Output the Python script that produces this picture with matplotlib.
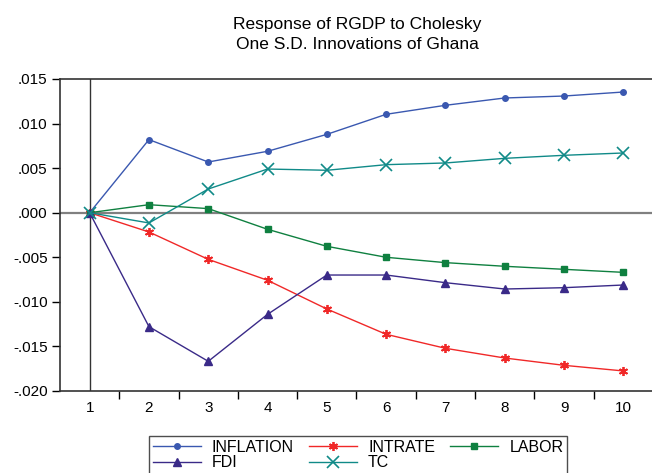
import numpy as np
import matplotlib
matplotlib.use("Agg")
import matplotlib.pyplot as plt
from matplotlib.ticker import FuncFormatter

plt.rcParams['font.family'] = ['Liberation Sans', 'DejaVu Sans']

periods = list(range(1, 11))
inflation = [0.0, 0.00820, 0.00569, 0.00689, 0.00879, 0.01104, 0.01205, 0.01287, 0.01309, 0.01354]
intrate = [0.0, -0.00216, -0.00523, -0.00758, -0.01080, -0.01364, -0.01521, -0.01630, -0.01712, -0.01775]
labor = [0.0, 0.00090, 0.00046, -0.00186, -0.00377, -0.00500, -0.00560, -0.00601, -0.00635, -0.00669]
fdi = [0.0, -0.01278, -0.01667, -0.01140, -0.00699, -0.00699, -0.00785, -0.00856, -0.00841, -0.00811]
tc = [0.0, -0.00115, 0.00266, 0.00490, 0.00476, 0.00539, 0.00558, 0.00610, 0.00644, 0.00670]

yticks = [0.015, 0.010, 0.005, 0.0, -0.005, -0.010, -0.015, -0.020]

fig = plt.figure(figsize=(6.52, 4.73), dpi=100)
ax = fig.add_axes([60 / 652, 1 - 391 / 473, 593 / 652, 312 / 473])

h_inf, = ax.plot(periods, inflation, color='#3a58b0', lw=1, marker='o', ms=4, label='INFLATION')
h_int, = ax.plot(periods, intrate, color='#f02828', lw=1, marker=(6, 2, 0), ms=6.5, mew=1.3, label='INTRATE')
h_lab, = ax.plot(periods, labor, color='#0f8040', lw=1, marker='s', ms=5, label='LABOR')
h_fdi, = ax.plot(periods, fdi, color='#3a2a88', lw=1, marker='^', ms=5.5, label='FDI')
h_tc, = ax.plot(periods, tc, color='#108a88', lw=1, marker='x', ms=9, mew=1.2, label='TC')

ax.axhline(0, color='#808080', lw=1.6, zorder=0)
ax.axvline(1, color='#333333', lw=1, zorder=0)

ax.set_xlim(0.5, 10.5)
ax.set_ylim(-0.020, 0.015)
ax.set_yticks(yticks)
ax.yaxis.set_major_formatter(FuncFormatter(lambda v, p: ('-' if v < -1e-9 else '') + ('%.3f' % abs(v))[1:]))
ax.set_xticks(periods)
ax.set_xticks(np.arange(1.5, 10.5, 1), minor=True)
ax.tick_params(axis='x', which='major', length=0, labelsize=11, pad=7)
ax.tick_params(axis='x', which='minor', length=6, width=1, direction='out')
ax.tick_params(axis='y', length=6, width=1, direction='out', labelsize=11, pad=3)

for s in ['left', 'bottom', 'top']:
    ax.spines[s].set_color('#333333')
    ax.spines[s].set_linewidth(1.2)
ax.spines['right'].set_visible(False)

fig.text(0.548, 0.927, 'Response of RGDP to Cholesky\nOne S.D. Innovations of Ghana',
         ha='center', va='center', fontsize=12.5, linespacing=1.45)

leg = fig.legend([h_inf, h_fdi, h_int, h_tc, h_lab],
                 ['INFLATION', 'FDI', 'INTRATE', 'TC', 'LABOR'],
                 ncol=3, loc='upper left', bbox_to_anchor=(0.228, 0.079),
                 borderaxespad=0,
                 frameon=True, fancybox=False, edgecolor='#222222', fontsize=11.5,
                 handlelength=3.0, columnspacing=0.95, handletextpad=0.7,
                 borderpad=0.25, labelspacing=0.05)
leg.get_frame().set_linewidth(1)

fig.savefig('out.png', dpi=100)
